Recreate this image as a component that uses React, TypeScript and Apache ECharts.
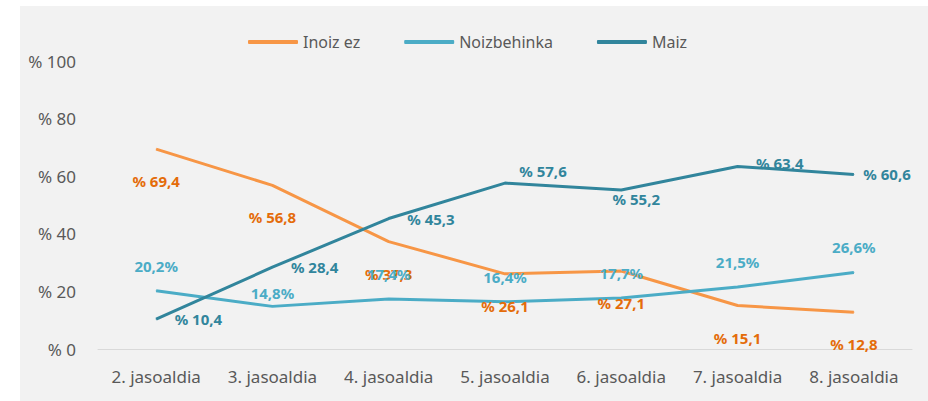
import React, { useEffect, useRef } from "react";
import * as echarts from "echarts";

const categories = [
  "2. jasoaldia",
  "3. jasoaldia",
  "4. jasoaldia",
  "5. jasoaldia",
  "6. jasoaldia",
  "7. jasoaldia",
  "8. jasoaldia",
];
const inoizEz = [69.4, 56.8, 37.3, 26.1, 27.1, 15.1, 12.8];
const noizbehinka = [20.2, 14.8, 17.4, 16.4, 17.7, 21.5, 26.6];
const maiz = [10.4, 28.4, 45.3, 57.6, 55.2, 63.4, 60.6];
const yTicks = [0, 20, 40, 60, 80, 100];

const FONT = "'Noto Sans', sans-serif";
const fmt = (v: number) => v.toFixed(1).replace(".", ",");

export default function App() {
  const ref = useRef<HTMLDivElement>(null);
  useEffect(() => {
    const chart = echarts.init(ref.current!, null, { renderer: "svg" });
    const labelBase = {
      show: true,
      fontFamily: FONT,
      fontSize: 15,
      fontWeight: "bold" as const,
    };
    const maizData = maiz.map((v, i) => {
      if (i === 3)
        return { value: v, label: { position: "top", distance: 4, offset: [38, 0] } };
      if (i === 4)
        return { value: v, label: { position: "bottom", distance: 1, offset: [15, 0] } };
      if (i === 5) return { value: v, label: { distance: 18, offset: [0, -3] } };
      if (i === 6) return { value: v, label: { distance: 9 } };
      return v;
    });
    const noizData = noizbehinka.map((v, i) => {
      if (i === 1) return { value: v, label: { distance: 5 } };
      return v;
    });
    chart.setOption({
      animation: false,
      textStyle: { fontFamily: FONT },
      graphic: [
        {
          type: "rect",
          z: -10,
          silent: true,
          shape: { x: 20, y: 6, width: 908, height: 395 },
          style: { fill: "#f2f2f2" },
        },
      ],
      legend: {
        left: 243,
        top: 29,
        itemWidth: 50,
        itemHeight: 4,
        itemGap: 44,
        icon: "roundRect",
        textStyle: { fontFamily: FONT, fontSize: 16, color: "#595959" },
        data: ["Inoiz ez", "Noizbehinka", "Maiz"],
      },
      grid: { left: 98, right: 16, top: 61, bottom: 52 },
      xAxis: {
        type: "category",
        data: categories,
        boundaryGap: true,
        axisLine: { lineStyle: { color: "#d9d9d9", width: 1 } },
        axisTick: { show: false },
        axisLabel: { color: "#595959", fontSize: 17, fontFamily: FONT, margin: 19, interval: 0 },
      },
      yAxis: {
        type: "value",
        min: yTicks[0],
        max: yTicks[yTicks.length - 1],
        interval: 20,
        axisLine: { show: false },
        axisTick: { show: false },
        splitLine: { show: false },
        axisLabel: {
          color: "#595959",
          fontSize: 17,
          fontFamily: FONT,
          margin: 22,
          formatter: (v: number) => "% " + v,
        },
      },
      series: [
        {
          name: "Inoiz ez",
          type: "line",
          data: inoizEz,
          symbol: "circle",
          symbolSize: 1,
          showSymbol: true,
          color: "#f79646",
          lineStyle: { width: 3, color: "#f79646" },
          label: {
            ...labelBase,
            color: "#e46c0a",
            position: "bottom",
            distance: 24,
            formatter: (p: any) => "% " + fmt(p.value),
          },
        },
        {
          name: "Noizbehinka",
          type: "line",
          data: noizData,
          symbol: "circle",
          symbolSize: 1,
          showSymbol: true,
          color: "#4bacc6",
          lineStyle: { width: 3, color: "#4bacc6" },
          label: {
            ...labelBase,
            color: "#4bacc6",
            position: "top",
            distance: 17,
            formatter: (p: any) => fmt(p.value) + "%",
          },
        },
        {
          name: "Maiz",
          type: "line",
          data: maizData,
          symbol: "circle",
          symbolSize: 1,
          showSymbol: true,
          color: "#31859c",
          lineStyle: { width: 3, color: "#31859c" },
          label: {
            ...labelBase,
            color: "#31859c",
            position: "right",
            distance: 18,
            formatter: (p: any) => "% " + fmt(p.value),
          },
        },
      ],
    });
    return () => chart.dispose();
  }, []);
  return (
    <div
      ref={ref}
      style={{ position: "fixed", left: 0, top: 0, width: 928, height: 401, background: "#ffffff" }}
    />
  );
}
